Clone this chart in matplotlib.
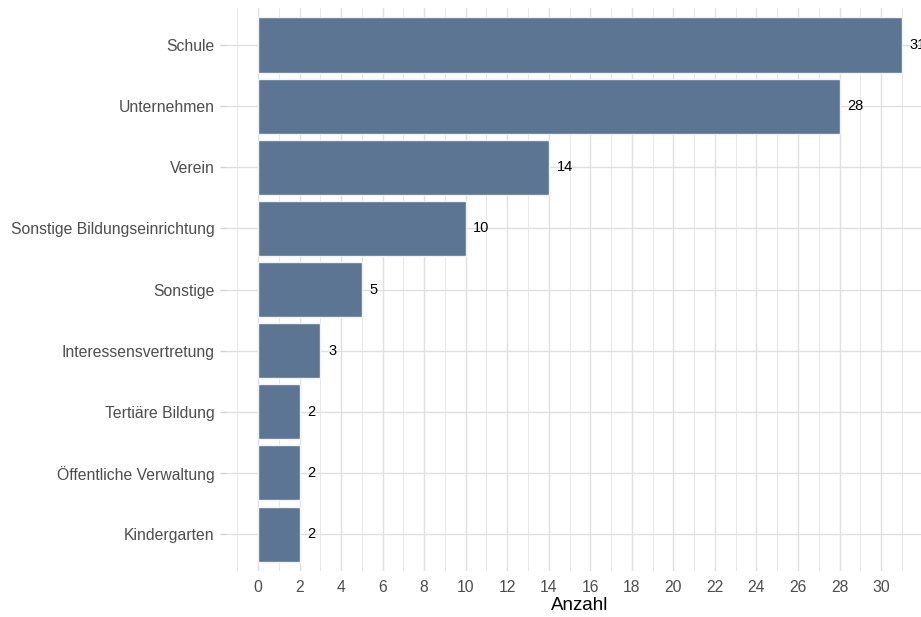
import numpy as np
import matplotlib
matplotlib.use("Agg")
import matplotlib.pyplot as plt

categories = ["Kindergarten", "Öffentliche Verwaltung", "Tertiäre Bildung",
              "Interessensvertretung", "Sonstige", "Sonstige Bildungseinrichtung",
              "Verein", "Unternehmen", "Schule"]
counts = [2, 2, 2, 3, 5, 10, 14, 28, 31]

plt.rcParams['font.family'] = ['Liberation Sans', 'DejaVu Sans']

fig = plt.figure(figsize=(9.21, 6.17), dpi=100)
# panel runs past the right edge, as in the original export
ax = fig.add_axes([0.2452, 0.075, 0.769, 0.9115])

ypos = np.arange(1, len(categories) + 1)
xmax = max(counts)
ax.set_xlim(-0.05 * xmax, xmax * 1.05)
ax.set_ylim(0.4, len(categories) + 0.6)

# grid: every integer vertically, each category horizontally
for v in np.arange(-1, 33):
    ax.axvline(v, color='#e0e0e0' if v % 2 == 0 else '#e8e8e8',
               lw=1.0 if v % 2 == 0 else 0.7, zorder=0)
for y in ypos:
    ax.axhline(y, color='#e0e0e0', lw=1.0, zorder=0)

ax.barh(ypos, counts, height=0.9, color='#5b7593', edgecolor='#f2f2f2',
        linewidth=1, zorder=2)

for y, c in zip(ypos, counts):
    ax.annotate(str(c), (c, y), xytext=(5.5, 0), textcoords='offset points',
                va='center', ha='left', fontsize=10.5, color='black',
                annotation_clip=False)

ax.set_yticks(ypos)
ax.set_yticklabels(categories)
ax.set_xticks(np.arange(0, 31, 2))
ax.tick_params(axis='y', length=4, color='#d4d4d4', width=1.0,
               labelsize=11.3, labelcolor='#4d4d4d', pad=4)
ax.tick_params(axis='x', length=0, labelsize=11.3, labelcolor='#4d4d4d', pad=7)
for s in ax.spines.values():
    s.set_visible(False)

ax.set_xlabel('Anzahl', fontsize=13.5, color='black', labelpad=1)

fig.savefig('out.png', dpi=100)
